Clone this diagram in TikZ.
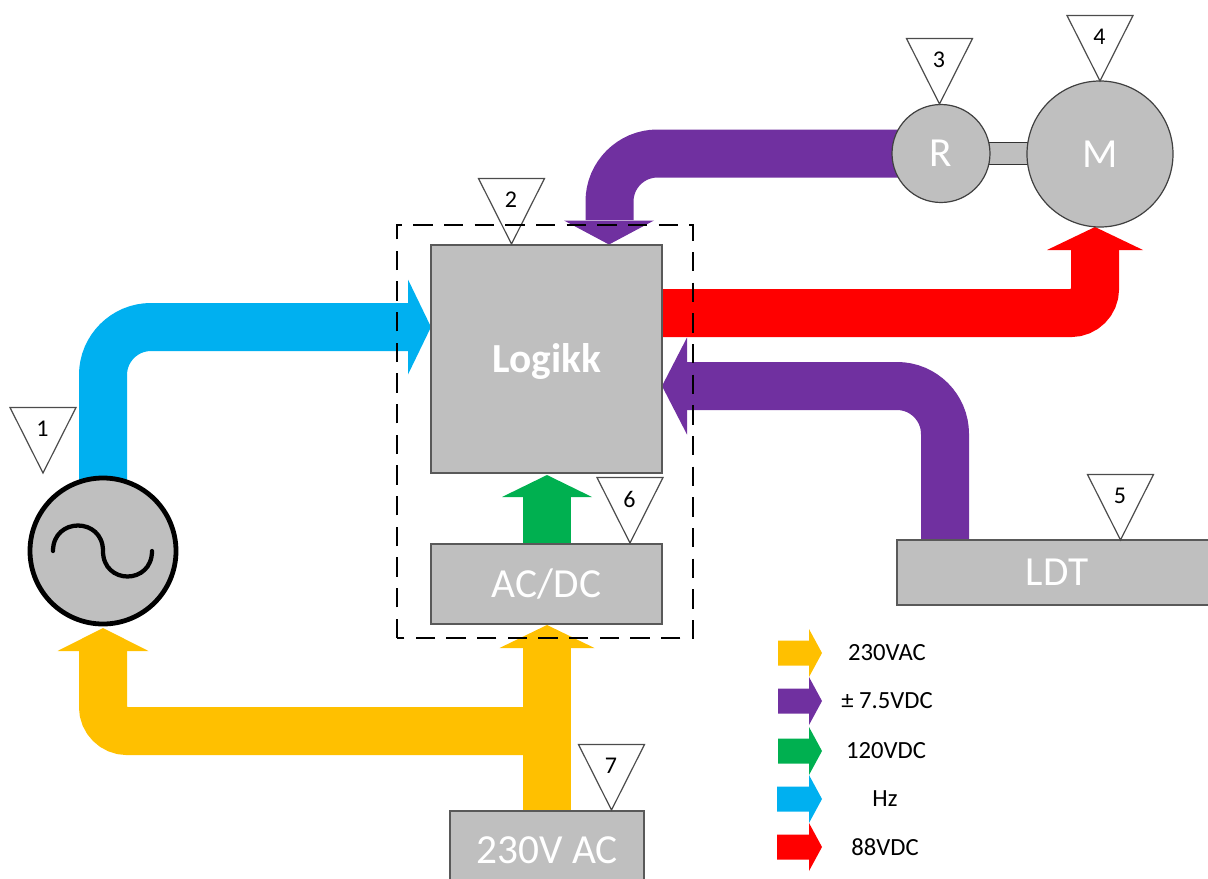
\documentclass[tikz,border=0pt]{standalone}
\usepackage{fontspec}
\setmainfont{Carlito}
\usetikzlibrary{backgrounds}
\definecolor{cblue}{HTML}{00B0F0}
\definecolor{cyellow}{HTML}{FFC000}
\definecolor{cpurple}{HTML}{7030A0}
\definecolor{cgreen}{HTML}{00B050}
\definecolor{cred}{HTML}{FF0000}
\definecolor{cbox}{HTML}{BFBFBF}
\definecolor{cedge}{HTML}{595959}
\tikzset{
  boxnode/.style={draw=cedge,line width=1.1pt,fill=cbox,text=white,inner sep=0pt,outer sep=0pt,font=\fontsize{31}{36}\selectfont},
  roundnode/.style={boxnode,circle,draw=black!75,line width=.9pt},
  band/.style={line width=36pt,rounded corners=36pt,line cap=butt},
  tightband/.style={band,rounded corners=18pt},
  tagnum/.style={inner sep=0pt,text=black,font=\fontsize{18}{21}\selectfont},
  tagtri/.style={draw=black!70,line width=.9pt,fill=white,line join=miter},
  legendtext/.style={inner sep=0pt,text=black,font=\fontsize{18.5}{22}\selectfont},
  groupbox/.style={draw=black,line width=2.2pt,dash pattern=on 14.5pt off 8.5pt}
}
% head: colour, tip, angle (direction of pointing on page), length, half width
\newcommand{\bandhead}[5]{\fill[#1,shift={(#2)},rotate=#3] (0,0) -- (-#4,-#5) -- (-#4,#5) -- cycle;}
\newcommand{\legendarrow}[3]{%
  \fill[#1] (#2,#3-12.5) -- (809,#3-12.5) -- (809,#3-24) -- (822,#3) -- (809,#3+24) -- (809,#3+12.5) -- (#2,#3+12.5) -- cycle;}
\newcommand{\tagmark}[4]{% name, apex x, apex y, number
  \draw[tagtri] (#2-33,#3-65.5) -- (#2+33,#3-65.5) -- (#2,#3) -- cycle;
  \node[tagnum] (#1) at (#2-0.5,#3-44) {#4};}
\begin{document}
\begin{tikzpicture}[x=.75pt,y=-.75pt]
\useasboundingbox (0,0) rectangle (1208,879);
\clip (0,0) rectangle (1208,879);
% blocks
\node[boxnode,minimum width=173.25pt,minimum height=171pt] (logikk) at (546.5,359) {};
\node[text=white,inner sep=0pt,font=\fontsize{31}{36}\selectfont\bfseries] (logikklabel) at (547,361) {Logikk};
\node[boxnode,minimum width=173.25pt,minimum height=60pt] (acdc) at (546.5,584) {AC/DC};
\node[boxnode,minimum width=145.5pt,minimum height=58.5pt] (mains) at (547,850) {230V AC};
\node[boxnode,minimum width=240pt,minimum height=48.75pt] (ldt) at (1057,572.5) {LDT};
\node[circle,draw=black,line width=3.6pt,fill=cbox,inner sep=0pt,outer sep=0pt,minimum size=109.5pt] (src) at (103,551) {};
\draw[line width=3.2pt,line cap=round] (53,551) .. controls (53,517) and (103,517) .. (src.center) .. controls (103,585) and (152,585) .. (152,551);
\node[roundnode,minimum size=73.5pt] (r) at (941,153.5) {R};
\node[roundnode,minimum size=109.5pt] (m) at (1100,154) {M};
% shaft between R and M
\begin{scope}[on background layer]
\node[draw=black!80,line width=.8pt,fill=cbox,minimum width=33pt,minimum height=17pt,inner sep=0pt] (shaft) at (1008.5,153.5) {};
% named ends of the power bands
\coordinate (bluetip) at (logikk.west |- 0,327);
\coordinate (toptip) at (609,244.5);
\coordinate (redtip) at (1095,227);
\coordinate (righttip) at (logikk.east |- 0,386);
\coordinate (greentip) at (547,475);
\coordinate (acdctip) at (547,625);
\coordinate (srctip) at (103,628);
% blue
\draw[band,cblue] (src.center) |- (408,327);
\bandhead{cblue}{bluetip}{0}{23}{47.5}
% purple top
\draw[band,cpurple] (r.center) -| (609.5,220);
\bandhead{cpurple}{toptip}{-90}{24}{45}
% red
\draw[tightband,cred] (logikk.east |- 0,313) -| (1095,250);
\bandhead{cred}{redtip}{90}{23}{48}
% purple right
\draw[band,cpurple] (ldt.north -| 945,0) |- (687,386);
\bandhead{cpurple}{righttip}{180}{25}{48.5}
% green
\draw[band,cgreen] (acdc.north -| 547,0) -- (547,497);
\bandhead{cgreen}{greentip}{90}{22}{45}
% yellow
\draw[band,cyellow] (mains.north -| 547,0) -- (547,648);
\bandhead{cyellow}{acdctip}{90}{23}{47.5}
\draw[tightband,cyellow] (547,731) -| (103,651);
\bandhead{cyellow}{srctip}{90}{23}{45.5}
\end{scope}
% tags
\tagmark{t1}{43}{473}{1}
\tagmark{t2}{511.5}{244}{2}
\tagmark{t3}{939.5}{104}{3}
\tagmark{t4}{1100}{81}{4}
\tagmark{t5}{1120.5}{540}{5}
\tagmark{t6}{630}{543}{6}
\tagmark{t7}{611.5}{810}{7}
% group outline
\draw[groupbox] (397,638) rectangle (693,225);
% legend
\legendarrow{cyellow}{778}{653}
\legendarrow{cpurple}{778}{701}
\legendarrow{cgreen}{778}{751}
\legendarrow{cblue}{777}{799}
\legendarrow{cred}{777}{847}
\node[legendtext] (l1) at (887,653) {230VAC};
\node[legendtext] (l2) at (887,701) {± 7.5VDC};
\node[legendtext] (l3) at (886,751) {120VDC};
\node[legendtext] (l4) at (885,799) {Hz};
\node[legendtext] (l5) at (885,847) {88VDC};
\end{tikzpicture}
\end{document}
